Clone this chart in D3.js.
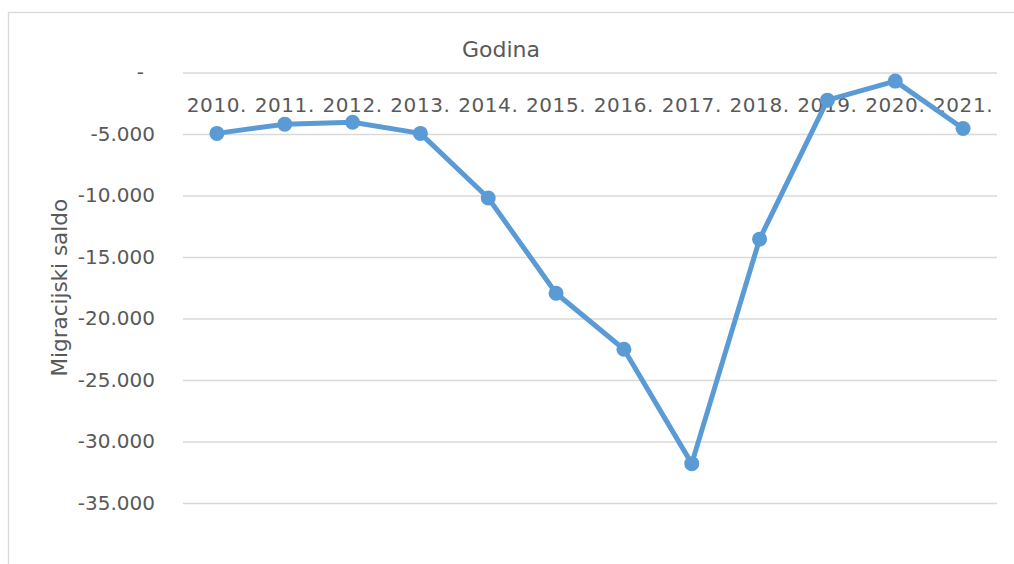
<!DOCTYPE html>
<html>
<head>
<meta charset="utf-8">
<script src="https://cdn.jsdelivr.net/npm/d3@7"></script>
<style>
  body { margin: 0; background: #fff; }
  text { font-family: "DejaVu Sans", sans-serif; fill: #595959; }
</style>
</head>
<body>
<div id="viz"></div>
<script>
// data
var years = ["2010.", "2011.", "2012.", "2013.", "2014.", "2015.", "2016.", "2017.", "2018.", "2019.", "2020.", "2021."]
var saldo = [-4950, -4200, -4050, -4950, -10200, -17950, -22500, -31800, -13550, -2250, -700, -4550]
var yTicks = [0, -5000, -10000, -15000, -20000, -25000, -30000, -35000]

var width = 1014, height = 564
var plot = { left: 183, right: 997, top: 72.5, bottom: 503 }

var svg = d3.select("#viz")
  .append("svg")
  .attr("width", width)
  .attr("height", height)

// chart border (right and bottom fall outside the picture)
svg.append("rect")
  .attr("x", 8.5).attr("y", 12.5)
  .attr("width", 1100).attr("height", 700)
  .attr("fill", "none")
  .attr("stroke", "#d9d9d9")
  .attr("stroke-width", 1.3)

var x = d3.scaleBand().domain(years).range([plot.left, plot.right])
var y = d3.scaleLinear().domain([-35000, 0]).range([plot.bottom, plot.top])

var locale = d3.formatLocale({ decimal: ",", thousands: ".", grouping: [3], currency: ["", ""], minus: "-" })
var fmt = locale.format(",d")

// y axis + gridlines
var yAxis = svg.append("g")
  .attr("transform", "translate(" + plot.left + ",0)")
  .call(d3.axisLeft(y)
    .tickValues(yTicks)
    .tickSize(-(plot.right - plot.left))
    .tickPadding(28)
    .tickFormat(function (d) { return d === 0 ? "-" : fmt(d) }))
yAxis.select(".domain").remove()
yAxis.selectAll("line").attr("stroke", "#d9d9d9").attr("stroke-width", 1.4)
yAxis.selectAll("text")
  .style("font-size", "20px")
  .attr("dx", function (d) { return d === 0 ? -11 : 0 })

// category labels hang just under the zero line
var xAxis = svg.append("g")
  .attr("transform", "translate(0," + y(0) + ")")
  .call(d3.axisBottom(x).tickSize(0).tickPadding(25))
xAxis.select(".domain").remove()
xAxis.selectAll("text")
  .style("font-size", "20px")
  .style("letter-spacing", "0.6px")

// titles
svg.append("text")
  .attr("x", 501).attr("y", 57)
  .attr("text-anchor", "middle")
  .style("font-size", "22px")
  .text("Godina")

svg.append("text")
  .attr("transform", "translate(67," + (plot.top + plot.bottom) / 2 + ") rotate(-90)")
  .attr("text-anchor", "middle")
  .style("font-size", "21.5px")
  .text("Migracijski saldo")

// series
var pts = years.map(function (d, i) { return { year: d, value: saldo[i] } })

var line = d3.line()
  .x(function (d) { return x(d.year) + x.bandwidth() / 2 })
  .y(function (d) { return y(d.value) })

svg.append("path")
  .datum(pts)
  .attr("d", line)
  .attr("fill", "none")
  .attr("stroke", "#5b9bd5")
  .attr("stroke-width", 5)
  .attr("stroke-linejoin", "round")

svg.selectAll("circle")
  .data(pts)
  .enter().append("circle")
  .attr("cx", function (d) { return x(d.year) + x.bandwidth() / 2 })
  .attr("cy", function (d) { return y(d.value) })
  .attr("r", 7.5)
  .attr("fill", "#5b9bd5")
</script>
</body>
</html>
